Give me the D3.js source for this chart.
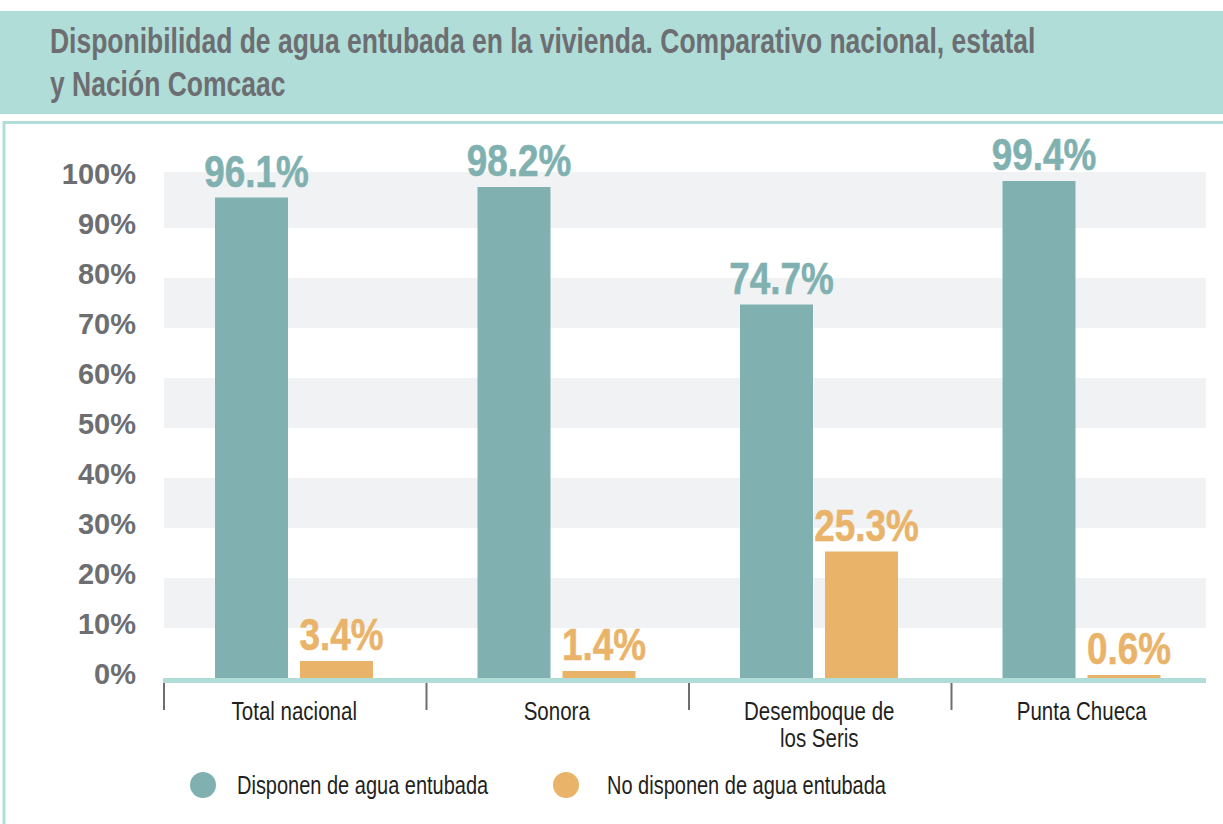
<!DOCTYPE html>
<html>
<head>
<meta charset="utf-8">
<script src="https://cdn.jsdelivr.net/npm/d3@7"></script>
<style>
  html, body { margin: 0; padding: 0; background: #ffffff; }
  svg { display: block; }
  text { font-family: "Liberation Sans", Arial, sans-serif; }
</style>
</head>
<body>
<svg id="chart" width="1223" height="824"></svg>
<script>
// ---- Data ----
const titleLines = [
  "Disponibilidad de agua entubada en la vivienda. Comparativo nacional, estatal",
  "y Nación Comcaac"
];
const categories = ["Total nacional", "Sonora", "Desemboque de\nlos Seris", "Punta Chueca"];
const seriesNames = ["Disponen de agua entubada", "No disponen de agua entubada"];
const disponen = [96.1, 98.2, 74.7, 99.4];
const noDisponen = [3.4, 1.4, 25.3, 0.6];
const yTicks = [0, 10, 20, 30, 40, 50, 60, 70, 80, 90, 100];
const bandRanges = [[90, 101.2], [70, 80], [50, 60], [30, 40], [10, 20]];

const colors = ["#80b1b0", "#e9b46a"];
const seriesValues = [disponen, noDisponen];

const svg = d3.select("#chart");
const W = 1223, H = 824;

// condensed text helper: horizontal compression of a regular font
function narrowText(parent, x, y, str, size, weight, fill, anchor, sx) {
  const g = parent.append("g").attr("transform", `translate(${x},${y}) scale(${sx},1)`);
  return g.append("text").attr("x", 0).attr("y", 0)
    .attr("font-size", size).attr("font-weight", weight).attr("fill", fill)
    .attr("text-anchor", anchor).text(str);
}

// ---- Title banner ----
svg.append("rect").attr("x", 0).attr("y", 11).attr("width", W).attr("height", 103).attr("fill", "#b0ddd8");
const titleG = svg.append("g");
const t1 = narrowText(titleG, 50, 53, titleLines[0], 35, 700, "#6d6e71", "start", 1);
const natural = t1.node().getComputedTextLength();
const titleScale = 986 / natural;
t1.node().parentNode.setAttribute("transform", `translate(50,53) scale(${titleScale},1)`);
narrowText(titleG, 50, 96, titleLines[1], 35, 700, "#6d6e71", "start", titleScale);

// frame lines
svg.append("line").attr("x1", 3).attr("x2", W).attr("y1", 122.5).attr("y2", 122.5)
  .attr("stroke", "#b0ddd8").attr("stroke-width", 3);
svg.append("line").attr("x1", 4).attr("x2", 4).attr("y1", 121).attr("y2", H)
  .attr("stroke", "#b0ddd8").attr("stroke-width", 3);

// ---- Scales ----
const x = d3.scaleBand().domain(categories).range([163, 1213]).paddingInner(0).paddingOuter(0);
const xInner = d3.scaleBand().domain(seriesNames).range([52, 210]).paddingInner(12 / 85).paddingOuter(0);
const y = d3.scaleLinear().domain([0, 100]).range([678, 178]);

// ---- Background bands ----
svg.append("g").selectAll("rect").data(bandRanges).join("rect")
  .attr("x", 164).attr("width", 1206 - 164)
  .attr("y", d => y(d[1])).attr("height", d => y(d[0]) - y(d[1]))
  .attr("fill", "#f1f2f4");

// ---- Y labels ----
svg.append("g").selectAll("text").data(yTicks).join("text")
  .attr("x", 136).attr("y", d => y(d) - 4).attr("dy", "0.35em")
  .attr("text-anchor", "end")
  .attr("font-size", 29).attr("font-weight", 700).attr("fill", "#6d6e71")
  .text(d => d + "%");

// ---- Bars ----
const barLayer = svg.append("g");
const labelLayer = svg.append("g");
categories.forEach((c, ci) => {
  seriesNames.forEach((s, si) => {
    const v = seriesValues[si][ci];
    const bx = x(c) + xInner(s);
    barLayer.append("rect")
      .attr("x", bx).attr("width", xInner.bandwidth())
      .attr("y", y(v)).attr("height", y(0) - y(v))
      .attr("fill", colors[si]);
    narrowText(labelLayer, bx + xInner.bandwidth() / 2 + 5, y(v) - 11, v.toFixed(1) + "%",
      45, 700, colors[si], "middle", 0.82)
      .attr("stroke", colors[si]).attr("stroke-width", 0.6);
  });
});

// ---- X axis ----
svg.append("line").attr("x1", 163).attr("x2", 1206).attr("y1", 680.5).attr("y2", 680.5)
  .attr("stroke", "#b0ddd8").attr("stroke-width", 5);
svg.append("g").selectAll("line").data(categories).join("line")
  .attr("x1", d => x(d) + 1).attr("x2", d => x(d) + 1)
  .attr("y1", 683).attr("y2", 710)
  .attr("stroke", "#6d6e71").attr("stroke-width", 2);

const catLayer = svg.append("g");
categories.forEach(c => {
  const cx = x(c) + x.bandwidth() / 2;
  c.split("\n").forEach((line, li) => {
    narrowText(catLayer, cx, 720 + li * 27, line, 25, 400, "#231f20", "middle", 0.82);
  });
});

// ---- Legend ----
const legendX = [203, 566];
const legendTextX = [237, 607];
const legend = svg.append("g");
seriesNames.forEach((s, i) => {
  legend.append("circle").attr("cx", legendX[i]).attr("cy", 785).attr("r", 13).attr("fill", colors[i]);
  narrowText(legend, legendTextX[i], 794, s, 25, 400, "#231f20", "start", 0.8);
});
</script>
</body>
</html>
